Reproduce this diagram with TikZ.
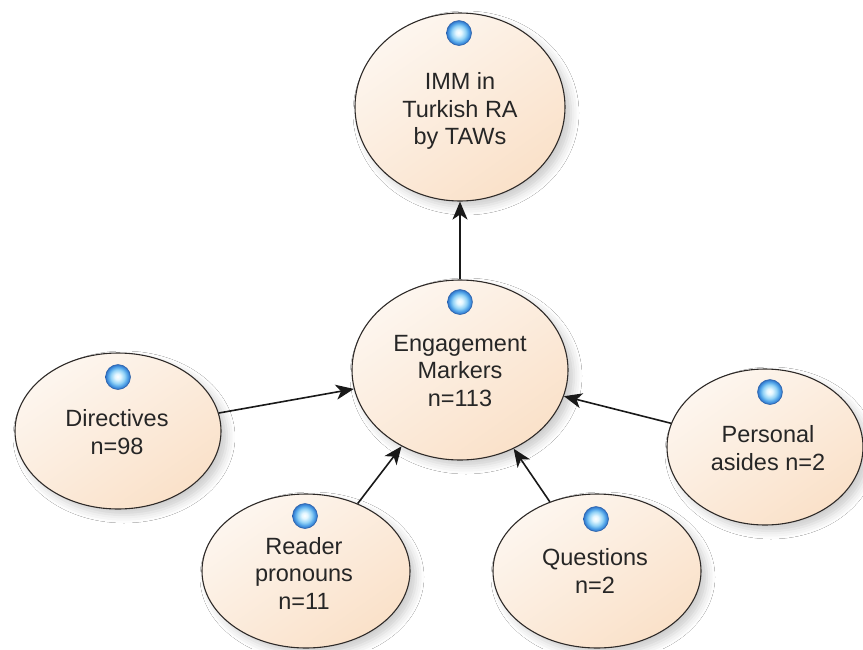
\documentclass[tikz,border=0pt]{standalone}
\usepackage{fontspec}
\setmainfont{Liberation Sans}
\usetikzlibrary{shapes.geometric,arrows.meta,shadows.blur,backgrounds}

\definecolor{bubblelight}{HTML}{FDF6EF}
\definecolor{bubbledark}{HTML}{FAE1C9}
\definecolor{rim}{HTML}{2E2A28}
\definecolor{ink}{HTML}{262626}
\definecolor{ballrim}{HTML}{2C6CC2}
\definecolor{ballmid}{HTML}{4C9FE6}
\definecolor{balllight}{HTML}{92D2F6}
\definecolor{ballcore}{HTML}{E2F6FF}

% glossy blue marker on each bubble
\pgfdeclareradialshading{blueball}{\pgfpoint{-1bp}{1bp}}{%
  color(0bp)=(white);
  color(6bp)=(ballcore);
  color(14bp)=(balllight);
  color(20bp)=(ballmid);
  color(25bp)=(ballrim);
  color(50bp)=(ballrim)}

\tikzset{
  bubble/.style={ellipse, draw=rim, line width=1.1pt, inner sep=0pt,
    top color=bubblelight, bottom color=bubbledark, shading angle=35,
    blur shadow={shadow xshift=6pt, shadow yshift=-6pt,
      shadow blur radius=8pt, shadow opacity=20}},
  lbl/.style={align=center, inner sep=0pt, text=ink,
    font=\fontsize{23.5}{27.5}\selectfont},
  marker/.style={circle, minimum size=25pt, inner sep=0pt,
    shading=blueball, draw=ballrim!85!black, line width=0.5pt},
  arr/.style={draw=black!90, line width=1.6pt,
    -{Stealth[length=18pt,width=15pt,inset=5pt]}},
  ghost/.style={draw=black!11, line width=1.6pt,
    -{Stealth[length=18pt,width=15pt,inset=5pt]},
    transform canvas={shift={(25pt,-27pt)}}}
}

\begin{document}
\begin{tikzpicture}[x=1pt,y=-1pt]
\useasboundingbox[fill=white] (0,0) rectangle (863,649);

% bubbles
\node[bubble, minimum width=210pt, minimum height=188pt] (imm)  at (460,107) {};
\node[bubble, minimum width=216pt, minimum height=180pt] (eng)  at (460,370) {};
\node[bubble, minimum width=206pt, minimum height=156pt] (dir)  at (118,431) {};
\node[bubble, minimum width=196pt, minimum height=156pt] (pers) at (765,447) {};
\node[bubble, minimum width=208pt, minimum height=154pt] (read) at (306,571) {};
\node[bubble, minimum width=208pt, minimum height=154pt] (ques) at (597,571) {};

% markers
\node[marker] (immball)  at (459,33)  {};
\node[marker] (engball)  at (460,302) {};
\node[marker] (dirball)  at (118,377) {};
\node[marker] (persball) at (770,392) {};
\node[marker] (readball) at (305,516) {};
\node[marker] (quesball) at (596,519) {};

% labels
\node[lbl] (immtxt)  at (460,111) {IMM in\\Turkish RA\\by TAWs};
\node[lbl] (engtxt)  at (460,371) {Engagement\\Markers\\n=113};
\node[lbl] (dirtxt)  at (117,432) {Directives\\n=98};
\node[lbl] (perstxt) at (768,448) {Personal\\asides n=2};
\node[lbl] (readtxt) at (304,573) {Reader\\pronouns\\n=11};
\node[lbl] (questxt) at (595,571) {Questions\\n=2};

% faint connector shadows beneath the bubbles
\begin{pgfonlayer}{background}
  \draw[ghost] (eng)  -- (imm);
  \draw[ghost] (dir)  -- (eng);
  \draw[ghost] (pers) -- (eng);
  \draw[ghost] (read) -- (eng);
  \draw[ghost] (ques) -- (eng);
\end{pgfonlayer}

% connectors
\draw[arr] (eng)  -- (imm);
\draw[arr] (dir)  -- (eng);
\draw[arr] (pers) -- (eng);
\draw[arr] (read) -- (eng);
\draw[arr] (ques) -- (eng);
\end{tikzpicture}
\end{document}
